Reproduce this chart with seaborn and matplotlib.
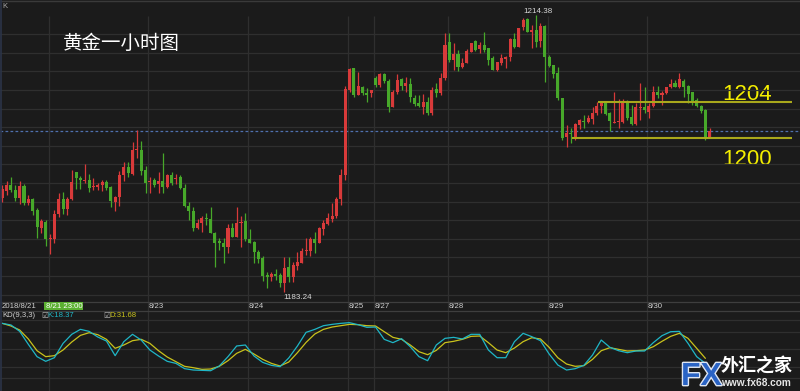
import matplotlib
matplotlib.use("Agg")
import matplotlib.pyplot as plt
import matplotlib.patheffects as pe
from matplotlib.patches import Rectangle
from matplotlib.lines import Line2D
import numpy as np
import seaborn as sns

# ---------------- data (hourly gold candles) ----------------
opens = [
    1193.78, 1194.60, 1195.27, 1194.74, 1193.78, 1195.16, 1193.28, 1193.66, 1192.46, 1190.47,
    1191.15, 1189.24, 1189.24, 1192.05, 1193.66, 1192.61, 1193.66, 1196.77, 1196.09, 1195.72,
    1195.83, 1195.01, 1195.05, 1195.27, 1195.64, 1195.05, 1193.39, 1193.89, 1196.36, 1197.30,
    1196.54, 1199.21, 1199.24, 1196.96, 1195.61, 1195.83, 1195.35, 1195.72, 1195.08, 1196.36,
    1195.95, 1196.14, 1194.90, 1192.95, 1192.38, 1190.47, 1190.97, 1191.53, 1191.42, 1189.91,
    1188.98, 1188.75, 1188.34, 1190.40, 1189.46, 1191.00, 1191.22, 1189.24, 1188.83, 1187.74,
    1187.03, 1185.15, 1184.96, 1185.27, 1185.12, 1184.22, 1186.09, 1184.96, 1186.20, 1186.54,
    1187.85, 1187.89, 1189.17, 1188.79, 1190.36, 1190.92, 1191.45, 1191.79, 1193.70, 1196.40,
    1205.95, 1208.39, 1205.39, 1206.26, 1205.54, 1205.65, 1207.34, 1206.48, 1207.72, 1207.00,
    1204.07, 1205.76, 1207.16, 1206.40, 1206.63, 1205.09, 1204.46, 1204.04, 1204.64, 1203.40,
    1206.06, 1205.65, 1207.27, 1211.35, 1209.32, 1209.97, 1208.57, 1209.02, 1210.26, 1211.49,
    1210.53, 1211.01, 1210.64, 1209.52, 1208.20, 1209.02, 1209.44, 1209.70, 1211.65, 1210.82,
    1213.00, 1213.90, 1212.44, 1212.70, 1211.49, 1213.18, 1209.70, 1208.76, 1207.83, 1205.02,
    1200.63, 1201.15, 1200.44, 1202.02, 1202.50, 1202.32, 1202.69, 1203.33, 1204.15, 1204.64,
    1203.33, 1202.21, 1202.35, 1202.39, 1204.75, 1202.88, 1202.13, 1203.89, 1204.07, 1203.51,
    1204.15, 1205.76, 1205.42, 1205.58, 1206.26, 1206.77, 1206.26, 1207.00, 1206.40, 1205.69,
    1204.83, 1204.15, 1203.70, 1200.70,
]
highs = [
    1195.24, 1195.72, 1196.20, 1195.27, 1195.72, 1195.38, 1194.15, 1193.78, 1192.65, 1191.45,
    1191.34, 1189.73, 1192.43, 1194.34, 1194.49, 1193.89, 1196.96, 1196.77, 1196.32, 1197.67,
    1196.51, 1196.03, 1195.46, 1195.83, 1195.83, 1195.19, 1194.04, 1196.85, 1197.82, 1197.82,
    1200.14, 1201.46, 1200.22, 1197.41, 1196.14, 1196.03, 1196.77, 1198.84, 1196.47, 1196.77,
    1196.47, 1196.40, 1195.38, 1193.39, 1192.76, 1191.42, 1191.79, 1192.09, 1192.76, 1190.02,
    1189.28, 1189.28, 1190.89, 1190.97, 1192.76, 1191.79, 1192.16, 1190.29, 1189.01, 1187.96,
    1187.29, 1185.53, 1185.53, 1185.83, 1185.35, 1187.14, 1187.14, 1186.65, 1187.71, 1188.16,
    1189.28, 1189.39, 1189.95, 1190.58, 1191.34, 1192.09, 1193.21, 1193.89, 1197.04, 1206.40,
    1208.39, 1208.39, 1208.01, 1206.40, 1206.14, 1205.95, 1207.53, 1207.90, 1207.83, 1207.16,
    1205.95, 1207.75, 1207.27, 1207.38, 1207.27, 1205.39, 1205.39, 1205.50, 1205.20, 1206.26,
    1206.77, 1207.90, 1212.36, 1212.36, 1211.20, 1210.45, 1209.52, 1210.53, 1211.27, 1211.57,
    1211.38, 1212.44, 1210.71, 1209.77, 1209.13, 1210.00, 1209.77, 1211.76, 1212.39, 1212.92,
    1214.01, 1214.01, 1213.26, 1214.38, 1213.45, 1213.26, 1209.89, 1208.76, 1208.57, 1205.05,
    1202.02, 1201.65, 1202.21, 1202.66, 1203.14, 1203.14, 1204.07, 1204.64, 1204.75, 1204.75,
    1203.51, 1205.76, 1204.91, 1204.91, 1204.83, 1204.27, 1204.52, 1206.71, 1206.26, 1204.46,
    1206.40, 1206.40, 1205.87, 1206.32, 1207.16, 1207.08, 1207.90, 1207.16, 1206.51, 1205.76,
    1205.02, 1204.27, 1203.78, 1201.65,
]
lows = [
    1193.39, 1194.15, 1194.52, 1193.51, 1193.10, 1193.02, 1193.02, 1191.90, 1189.28, 1189.84,
    1188.45, 1187.52, 1188.79, 1191.64, 1192.05, 1191.90, 1193.59, 1194.79, 1194.82, 1195.46,
    1194.52, 1194.71, 1194.71, 1194.60, 1194.71, 1192.83, 1192.38, 1192.91, 1195.72, 1196.14,
    1196.40, 1198.27, 1196.40, 1194.41, 1194.34, 1195.08, 1194.41, 1194.34, 1194.90, 1195.27,
    1195.38, 1194.79, 1192.76, 1191.34, 1190.10, 1190.29, 1190.02, 1190.78, 1189.84, 1186.09,
    1187.96, 1186.47, 1187.59, 1189.39, 1189.39, 1188.34, 1189.01, 1188.72, 1186.54, 1186.47,
    1184.51, 1183.66, 1184.51, 1184.59, 1183.84, 1183.24, 1184.40, 1184.40, 1185.72, 1186.47,
    1187.40, 1187.29, 1187.59, 1188.72, 1189.65, 1190.78, 1191.15, 1191.53, 1193.02, 1195.83,
    1205.76, 1205.13, 1205.39, 1205.39, 1204.64, 1205.13, 1206.26, 1206.26, 1206.71, 1203.51,
    1204.01, 1205.50, 1205.95, 1205.76, 1204.64, 1204.15, 1204.01, 1203.25, 1203.14, 1203.14,
    1205.20, 1205.39, 1207.08, 1209.10, 1208.20, 1208.12, 1208.46, 1208.95, 1210.19, 1210.37,
    1210.15, 1210.26, 1208.76, 1208.20, 1208.09, 1208.76, 1208.46, 1209.25, 1210.64, 1210.73,
    1212.70, 1212.51, 1210.64, 1210.82, 1210.82, 1206.89, 1208.57, 1207.27, 1204.83, 1200.33,
    1199.58, 1200.03, 1200.33, 1201.57, 1201.65, 1202.21, 1202.13, 1203.14, 1203.33, 1203.14,
    1201.38, 1202.21, 1201.65, 1202.21, 1202.58, 1202.02, 1202.02, 1202.58, 1203.33, 1202.77,
    1204.07, 1205.02, 1204.27, 1205.50, 1206.14, 1206.26, 1206.14, 1205.20, 1204.46, 1204.27,
    1204.01, 1203.40, 1200.33, 1200.52,
]
closes = [
    1194.79, 1195.27, 1194.71, 1193.78, 1195.16, 1193.28, 1193.70, 1192.35, 1190.58, 1191.22,
    1189.17, 1189.35, 1192.05, 1193.66, 1192.61, 1193.66, 1195.61, 1196.03, 1195.83, 1195.83,
    1194.97, 1195.16, 1195.31, 1195.64, 1194.97, 1193.47, 1193.92, 1196.40, 1197.30, 1196.65,
    1199.24, 1199.32, 1196.88, 1195.53, 1195.72, 1195.27, 1195.72, 1195.08, 1196.36, 1195.46,
    1196.06, 1194.90, 1192.91, 1192.35, 1190.47, 1191.03, 1191.53, 1191.42, 1189.91, 1188.79,
    1188.79, 1188.34, 1190.40, 1189.46, 1190.97, 1191.15, 1189.17, 1188.79, 1187.74, 1186.95,
    1185.04, 1184.90, 1185.23, 1185.04, 1184.22, 1185.97, 1184.96, 1186.28, 1186.65, 1187.85,
    1187.96, 1189.17, 1188.79, 1190.40, 1190.97, 1191.60, 1191.79, 1193.70, 1196.40, 1206.06,
    1208.31, 1205.39, 1206.40, 1205.58, 1205.47, 1205.95, 1206.51, 1207.72, 1206.96, 1204.07,
    1205.76, 1207.08, 1206.40, 1206.77, 1205.13, 1204.38, 1204.15, 1204.60, 1203.33, 1205.95,
    1205.65, 1207.27, 1211.01, 1209.32, 1210.00, 1208.57, 1209.02, 1210.37, 1211.20, 1210.45,
    1211.01, 1210.45, 1209.32, 1208.20, 1209.13, 1209.52, 1209.70, 1211.65, 1210.82, 1212.87,
    1213.82, 1212.51, 1212.70, 1211.38, 1213.18, 1209.70, 1208.68, 1207.75, 1205.02, 1200.56,
    1201.08, 1201.01, 1202.13, 1202.58, 1202.32, 1202.77, 1203.40, 1204.15, 1204.64, 1203.25,
    1202.47, 1202.39, 1202.50, 1204.52, 1202.77, 1202.13, 1204.07, 1204.07, 1203.70, 1204.15,
    1205.76, 1205.36, 1205.58, 1206.26, 1206.63, 1206.32, 1207.16, 1206.32, 1205.50, 1204.52,
    1204.19, 1203.63, 1200.52, 1201.38,
]

# KD(9,3,3) values read every second candle
kd_index = list(range(0, 164, 2))
k_values = [
    94.3, 91.5, 80.6, 58.3, 37.2, 29.2, 35.4, 60.0, 75.5, 84.0,
    80.6, 70.9, 64.0, 38.9, 62.9, 75.5, 65.7, 48.6, 38.3, 29.2,
    25.7, 16.6, 14.3, 13.7, 13.1, 21.2, 37.2, 55.5, 57.2, 38.3,
    27.4, 22.3, 20.0, 34.9, 55.5, 78.9, 84.0, 90.3, 92.6, 94.3,
    95.5, 92.0, 87.5, 88.0, 66.9, 61.2, 68.0, 54.3, 37.2, 30.3,
    57.2, 68.6, 70.3, 67.5, 75.5, 75.5, 48.6, 35.4, 35.4, 62.9,
    77.2, 71.5, 64.6, 41.7, 22.9, 14.3, 16.6, 22.3, 40.0, 65.7,
    53.2, 47.4, 44.0, 46.9, 46.9, 61.2, 73.2, 80.0, 80.6, 60.0,
    37.2, 25.7,
]
d_values = [
    94.3, 89.8, 82.9, 67.5, 47.4, 37.2, 38.9, 48.6, 62.3, 73.7,
    78.3, 74.9, 66.9, 51.5, 57.2, 64.6, 66.9, 60.0, 47.4, 36.6,
    28.6, 20.6, 18.3, 15.4, 16.0, 20.6, 30.3, 42.9, 49.7, 41.7,
    32.6, 25.7, 21.2, 28.0, 44.0, 61.7, 76.0, 84.0, 88.0, 90.3,
    92.6, 92.0, 90.3, 89.8, 80.0, 70.3, 66.9, 57.2, 45.7, 40.6,
    48.0, 61.2, 63.5, 66.9, 72.0, 72.6, 61.2, 48.6, 44.0, 52.0,
    62.9, 69.7, 67.5, 53.2, 35.4, 24.6, 20.6, 21.7, 32.6, 47.4,
    52.6, 49.7, 46.9, 47.4, 48.6, 54.3, 63.5, 72.0, 77.2, 68.6,
    51.5, 34.3,
]

day_index = [11, 34, 57, 80, 86, 103, 126, 149]
day_labels = ["", "8/23", "8/24", "8/25", "8/27", "8/28", "8/29", "8/30"]
first_label = "2018/8/21"
cursor_label = "8/21 23:00"
title_text = "黄金一小时图"
resistance_level = 1204.64
support_level = 1200.50
resistance_text = "1204"
support_text = "1200"
high_text = "1214.38"
low_text = "1183.24"
k_label = "K:18.37"
d_label = "D:31.68"

# ---------------- style ----------------
sns.set_style("dark")
plt.rcParams['font.family'] = ['Liberation Sans', 'DejaVu Sans', 'Noto Sans CJK SC']

W, H = 800, 391
BG = '#1b1b1b'
GRID = '#2f2f2f'
UP = '#d83a3a'
DOWN = '#47a82a'
K_COLOR = '#1fb6c6'
D_COLOR = '#c9c21c'
TXT = '#cfcfcf'

def fxp(x):
    return x / W

def fyp(y):
    return 1 - y / H

fig = plt.figure(figsize=(8, 3.91), dpi=100, facecolor=BG)
XMIN, XMAX = -0.53, 183.8

# background layer: x in candle index, y in pixel rows
bg = fig.add_axes([0, 0, 1, 1], zorder=0)
bg.set_xlim(XMIN, XMAX)
bg.set_ylim(H, 0)
bg.axis('off')
bg.vlines(np.array(day_index) - 0.35, 16, H, color=GRID, lw=0.9)
bg.hlines([301.7, 311.0], XMIN, XMAX, color='#3e3e3e', lw=0.9)
bg.hlines(1.3, XMIN, XMAX, color='#3a3a3a', lw=1.0)
fig.add_artist(Line2D([1.2 / W, 1.2 / W], [0, 1], color='#2b3448', lw=1.2))

# ---------------- main candle panel ----------------
ax = fig.add_axes([0, fyp(300), 1, 297 / H], zorder=1)
ax.set_facecolor('none')
ax.axis('off')
ax.set_xlim(XMIN, XMAX)
ax.set_ylim(1182.34, 1215.73)
ax.hlines(1212.214 - 2.0911 * np.arange(15), XMIN, XMAX, color=GRID, lw=0.9, zorder=0)

o = np.array(opens)
h = np.array(highs)
l = np.array(lows)
c = np.array(closes)
x = np.arange(len(o))
colors = np.where(c >= o, UP, DOWN)
ax.vlines(x, l, h, colors=colors, lw=0.9, zorder=2)
body = np.maximum(np.abs(c - o), 0.13)
mid = (o + c) / 2
ax.bar(x, body, bottom=mid - body / 2, width=0.7, color=colors, lw=0, zorder=3)

ax.axhline(c[-1], color='#4f70ad', lw=0.9, ls=(0, (2.2, 1.8)), zorder=1)
ax.hlines(resistance_level, 137.2, 182.0, color='#a9a81c', lw=1.5, zorder=4)
ax.hlines(support_level, 131.3, 182.0, color='#a9a81c', lw=1.5, zorder=4)

hi_i = int(np.argmax(h))
lo_i = int(np.argmin(l))
ax.annotate(high_text, xy=(hi_i, h[hi_i]), xytext=(1.5, 0.3), textcoords='offset points',
            ha='center', va='bottom', fontsize=5.8, color='#d8d8d8', annotation_clip=False)
ax.annotate(low_text, xy=(lo_i, l[lo_i]), xytext=(-1, -1.5), textcoords='offset points',
            ha='left', va='top', fontsize=5.8, color='#d8d8d8', annotation_clip=False)

big = ['Liberation Sans', 'DejaVu Sans']
bg.text(165.8, 100, resistance_text, fontsize=16, color='#f4ee00', va='baseline', ha='left', family=big)
bg.text(165.8, 165, support_text, fontsize=16, color='#f4ee00', va='baseline', ha='left', family=big)

fig.text(fxp(2), fyp(7), 'K', fontsize=5.5, color='#a8a8a8', va='center', ha='left')
fig.text(fxp(63), fyp(43.5), title_text, fontsize=14, color='white', va='center', ha='left',
         family=['Noto Sans CJK SC', 'DejaVu Sans'])

# ---------------- date strip ----------------
fig.text(fxp(2), fyp(306.4), first_label, fontsize=5.6, color=TXT, va='center', ha='left')
for di, lab in zip(day_index, day_labels):
    if lab:
        bg.text(di - 0.2, 306.4, lab, fontsize=5.6, color=TXT, va='center', ha='left')
fig.add_artist(Rectangle((fxp(44.3), fyp(310.3)), 39 / W, 8 / H, transform=fig.transFigure,
                         facecolor='#5bb031', edgecolor='none'))
fig.text(fxp(45.5), fyp(306.4), cursor_label, fontsize=5.6, color='white', va='center', ha='left')

# ---------------- KD panel ----------------
kd = fig.add_axes([0, 0, 1, 80 / H], zorder=1)
kd.set_facecolor('none')
kd.hlines([0, 20, 50, 80, 100], XMIN, XMAX, color=GRID, lw=0.9, zorder=0)
sns.lineplot(x=kd_index, y=d_values, ax=kd, color=D_COLOR, lw=0.9, legend=False)
sns.lineplot(x=kd_index, y=k_values, ax=kd, color=K_COLOR, lw=0.9, legend=False)
kd.set_xlim(XMIN, XMAX)
kd.set_ylim(-21.7, 115.5)
kd.axis('off')

fig.text(fxp(2), fyp(315.6), 'KD(9,3,3)', fontsize=5.6, color=TXT, va='center', ha='left')
fig.text(fxp(41.5), fyp(315.6), '\u2611', fontsize=5.6, color='#bdbdbd', va='center', ha='left',
         family=['DejaVu Sans'])
fig.text(fxp(47.5), fyp(315.6), k_label, fontsize=5.6, color=K_COLOR, va='center', ha='left')
fig.text(fxp(103.5), fyp(315.6), '\u2611', fontsize=5.6, color='#bdbdbd', va='center', ha='left',
         family=['DejaVu Sans'])
fig.text(fxp(109), fyp(315.6), d_label, fontsize=5.6, color=D_COLOR, va='center', ha='left')

# ---------------- watermark ----------------
fig.text(fxp(681), fyp(385), 'FX', fontsize=23, fontweight='bold', color='#2a63c4',
         va='baseline', ha='left',
         path_effects=[pe.withStroke(linewidth=2.0, foreground='#dfe6f2')])
fig.text(fxp(720.5), fyp(366), '外汇之家', fontsize=13, fontweight='bold', color='white',
         va='center', ha='left', family=['Noto Sans CJK SC', 'DejaVu Sans'])
fig.text(fxp(721.5), fyp(383), 'www.fx68.com', fontsize=7.3, fontweight='bold', color='#e6e6e6',
         va='center', ha='left')

fig.savefig('out.png', dpi=100, facecolor=BG)
